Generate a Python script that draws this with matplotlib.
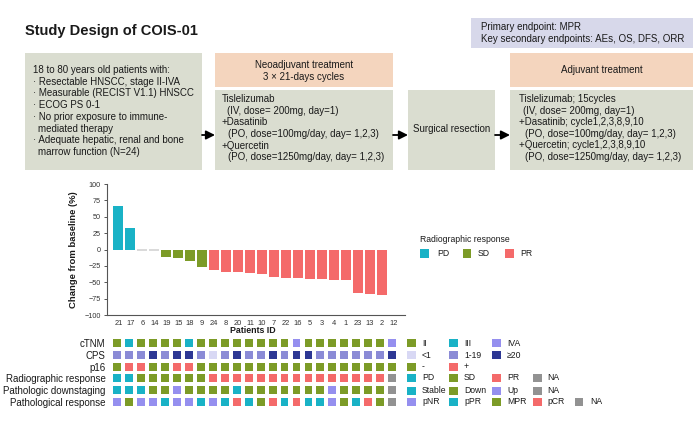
import numpy as np
import matplotlib
matplotlib.use('Agg')
import matplotlib.pyplot as plt
from matplotlib.patches import Rectangle

plt.rcParams['font.family'] = ['Liberation Sans', 'DejaVu Sans']
plt.rcParams['axes.unicode_minus'] = True

# ---------------- data ----------------
patients = [21, 17, 6, 14, 19, 15, 18, 9, 24, 8, 20, 11, 10, 7, 22, 16, 5, 3, 4, 1, 23, 13, 2, 12]
change = [67, 33, 0, 0, -12, -13, -17, -27, -31, -35, -35, -36, -38, -42, -43, -44,
          -45, -45, -46, -46, -66, -68, -69, np.nan]
radiographic = ['PD'] * 2 + ['SD'] * 6 + ['PR'] * 15 + ['NA']
ctnm = ['II', 'III', 'II', 'II', 'II', 'II', 'III'] + ['II'] * 8 + ['IVA'] + ['II'] * 7 + ['IVA']
cps = ['1-19', '1-19', '1-19', '≥20', '1-19', '≥20', '≥20', '1-19', '<1', '1-19', '≥20', '1-19',
       '1-19', '≥20', '1-19', '≥20', '≥20'] + ['1-19'] * 6 + ['≥20']
p16 = ['-', '+', '+', '-', '-', '+', '+'] + ['-'] * 17
downstaging = ['Stable', 'Stable', 'Stable', 'Down', 'Down', 'Up', 'Down', 'Down', 'Down', 'Down',
               'Stable'] + ['Down'] * 7 + ['Up'] + ['Down'] * 4 + ['NA']
path_response = ['pNR', 'MPR', 'pNR', 'pNR', 'pPR', 'pNR', 'pNR', 'pPR', 'pNR', 'pPR',
                 'pCR', 'pPR', 'MPR', 'pCR', 'pPR', 'pCR', 'pPR', 'pPR', 'pNR', 'MPR',
                 'pPR', 'pCR', 'MPR', 'NA']
row_labels = ['cTNM', 'CPS', 'p16', 'Radiographic response', 'Pathologic downstaging',
              'Pathological response']
yticks = [100, 75, 50, 25, 0, -25, -50, -75, -100]

# ---------------- colours ----------------
CYAN = '#19B2C6'
GREEN = '#7C9B27'
RED = '#F46A6A'
LAV = '#958FEF'
MID = '#8B8BD6'
DARK = '#2D3794'
LIGHT = '#D8D8F4'
GREY = '#929292'

row_cats = [
    [('II', GREEN), ('III', CYAN), ('IVA', LAV)],
    [('<1', LIGHT), ('1-19', MID), ('≥20', DARK)],
    [('-', GREEN), ('+', RED)],
    [('PD', CYAN), ('SD', GREEN), ('PR', RED), ('NA', GREY)],
    [('Stable', CYAN), ('Down', GREEN), ('Up', LAV), ('NA', GREY)],
    [('pNR', LAV), ('pPR', CYAN), ('MPR', GREEN), ('pCR', RED), ('NA', GREY)],
]
rows_data = [ctnm, cps, p16, radiographic, downstaging, path_response]

W, H = 700, 421
fig = plt.figure(figsize=(W / 100, H / 100), dpi=100)
TXT = '#1a1a1a'

def fax(l, t, r, b):
    return [l / W, 1 - b / H, (r - l) / W, (b - t) / H]

# ---------------- overlay (flowchart, legends) ----------------
ov = fig.add_axes([0, 0, 1, 1])
ov.set_xlim(0, W)
ov.set_ylim(H, 0)
ov.axis('off')

BOXG = '#DADDD0'
BOXS = '#F4D5BE'
BOXL = '#D7D8EA'

def box(x0, y0, x1, y1, c):
    ov.add_patch(Rectangle((x0, y0), x1 - x0, y1 - y0, facecolor=c, edgecolor='none'))

def t(x, y, s, **kw):
    kw.setdefault('fontsize', 7)
    kw.setdefault('color', TXT)
    kw.setdefault('va', 'center')
    ov.text(x, y, s, **kw)

ov.text(25, 31, 'Study Design of COIS-01', fontsize=10.5, fontweight='bold', color=TXT,
        va='center', ha='left')

box(25, 53, 202, 170, BOXG)
box(215, 53, 393, 87, BOXS)
box(215, 90, 393, 170, BOXG)
box(408, 90, 495, 170, BOXG)
box(510, 53, 693, 87, BOXS)
box(510, 90, 693, 170, BOXG)
box(471, 18, 693, 48, BOXL)

incl = [(33, '18 to 80 years old patients with:'),
        (33, '· Resectable HNSCC, stage II-IVA'),
        (33, '· Measurable (RECIST V1.1) HNSCC'),
        (33, '· ECOG PS 0-1'),
        (33, '· No prior exposure to immune-'),
        (38.5, 'mediated therapy'),
        (33, '· Adequate hepatic, renal and bone'),
        (38.5, 'marrow function (N=24)')]
for i, (x, s) in enumerate(incl):
    t(x, 70 + i * 11.7, s)

t(304, 65, 'Neoadjuvant treatment', ha='center')
t(304, 77, '3 × 21-days cycles', ha='center')
neo = [(222, 'Tislelizumab'), (227, '(IV, dose= 200mg, day=1)'),
       (222, '+Dasatinib'), (228, '(PO, dose=100mg/day, day= 1,2,3)'),
       (222, '+Quercetin'), (228, '(PO, dose=1250mg/day, day= 1,2,3)')]
for i, (x, s) in enumerate(neo):
    t(x, 99 + i * 11.7, s)

t(451.5, 129.5, 'Surgical resection', ha='center')
t(601.5, 70, 'Adjuvant treatment', ha='center')
adj = [(519, 'Tislelizumab; 15cycles'), (523, '(IV, dose= 200mg, day=1)'),
       (519, '+Dasatinib; cycle1,2,3,8,9,10'), (525, '(PO, dose=100mg/day, day= 1,2,3)'),
       (519, '+Quercetin; cycle1,2,3,8,9,10'), (525, '(PO, dose=1250mg/day, day= 1,2,3)')]
for i, (x, s) in enumerate(adj):
    t(x, 99 + i * 11.6, s)

t(481, 27, 'Primary endpoint: MPR')
t(481, 39, 'Key secondary endpoints: AEs, OS, DFS, ORR')

for x0, x1 in [(202, 215), (393, 408), (495, 510)]:
    ov.annotate('', xy=(x1, 135), xytext=(x0, 135),
                arrowprops=dict(arrowstyle='-|>', color='black', lw=1.3,
                                mutation_scale=13, shrinkA=0, shrinkB=0))

# bar legend
t(420, 239.5, 'Radiographic response', fontsize=6.2)
for (lab, col), sx, lx in zip(row_cats[3][:3], [420, 462.5, 505], [437, 478, 520]):
    ov.add_patch(Rectangle((sx, 249), 8.5, 8.5, facecolor=col, edgecolor='none'))
    t(lx, 253.5, lab, fontsize=6.2)

# heatmap legend
row_y = [343, 355, 366.5, 378, 390.5, 402]
sw_x = [407, 449, 492, 533, 574.5]
lab_x = [422, 464, 507, 547, 590]
for r, cats in enumerate(row_cats):
    for j, (lab, col) in enumerate(cats):
        ov.add_patch(Rectangle((sw_x[j], row_y[r] - 4), 8.5, 8, facecolor=col, edgecolor='none'))
        t(lab_x[j], row_y[r], lab, fontsize=6.2)

# ---------------- waterfall ----------------
x = np.arange(len(patients))
ax = fig.add_axes(fax(107, 184, 405, 315))
bar_colors = [dict(row_cats[3])[r] for r in radiographic]
edge_colors = ['#CFCFCF' if v == 0 else 'none' for v in change]
ax.bar(x, change, width=0.82, color=bar_colors, edgecolor=edge_colors, linewidth=1.1)
ax.set_xlim(-0.95, 23.95)
ax.set_ylim(-100, 100)
ax.set_yticks(yticks)
ax.set_xticks(x)
ax.set_xticklabels([str(p) for p in patients])
for s in ['top', 'right']:
    ax.spines[s].set_visible(False)
for s in ['left', 'bottom']:
    ax.spines[s].set_color('#555555')
    ax.spines[s].set_linewidth(0.8)
ax.tick_params(axis='y', labelsize=5.2, length=2.5, width=0.7, pad=2, colors='#555555',
               labelcolor='#333333')
ax.tick_params(axis='x', labelsize=5.4, length=0, pad=3.5, labelcolor='#333333')
ax.set_ylabel('Change from baseline (%)', fontsize=6.8, fontweight='bold', color=TXT)
ax.yaxis.set_label_coords(-0.097, 0.5)
ax.set_xlabel('Patients ID', fontsize=6.3, fontweight='bold', color=TXT, va='top')
ax.xaxis.set_label_coords(0.49, -0.085)

# ---------------- heatmap ----------------
hx = fig.add_axes(fax(105.6, 337.1, 403.6, 407.9))
hx.set_xlim(-0.95, 23.95)
hx.set_ylim(5.5, -0.5)
cw, ch = 0.66, 0.68
for r, vals in enumerate(rows_data):
    cmap = dict(row_cats[r])
    for i, v in enumerate(vals):
        hx.add_patch(Rectangle((i - cw / 2, r - ch / 2), cw, ch, facecolor=cmap[v],
                               edgecolor='none'))
hx.set_yticks(range(len(row_labels)))
hx.set_yticklabels(row_labels)
hx.set_xticks([])
hx.tick_params(axis='y', length=0, pad=0, labelsize=7, labelcolor=TXT)
for s in hx.spines.values():
    s.set_visible(False)
hx.patch.set_alpha(0)

fig.savefig('out.png', dpi=100)
